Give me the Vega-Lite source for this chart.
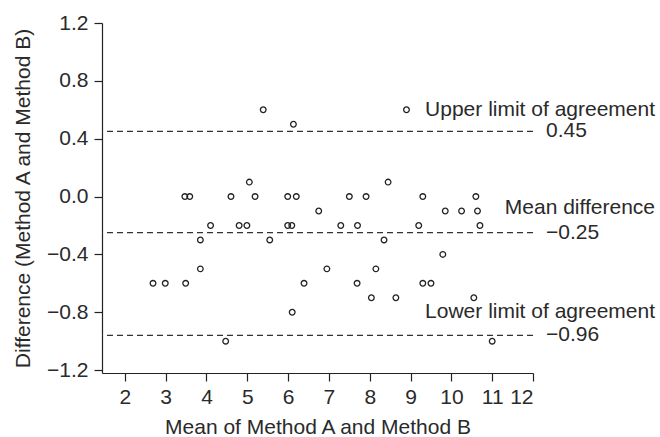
{
  "$schema": "https://vega.github.io/schema/vega-lite/v6.json",
  "width": 431,
  "height": 350,
  "autosize": {"type": "none"},
  "padding": {"left": 102, "top": 23, "right": 127, "bottom": 64},
  "background": "white",
  "config": {
    "view": {"stroke": null},
    "font": "Liberation Sans",
    "axis": {
      "grid": false,
      "domainColor": "#222",
      "tickColor": "#222",
      "labelColor": "#2a2a2a",
      "titleColor": "#2a2a2a",
      "labelFont": "Liberation Sans",
      "titleFont": "Liberation Sans",
      "labelFontSize": 21,
      "titleFontSize": 21,
      "titleFontWeight": "normal",
      "tickSize": 8,
      "domainWidth": 1.2,
      "tickWidth": 1.2
    }
  },
  "datasets": {
    "points": [
      {"mean": 5.39, "diff": 0.6}, {"mean": 8.9, "diff": 0.6}, {"mean": 6.13, "diff": 0.5},
      {"mean": 5.05, "diff": 0.1}, {"mean": 8.45, "diff": 0.1},
      {"mean": 3.47, "diff": 0.0}, {"mean": 3.59, "diff": 0.0}, {"mean": 4.6, "diff": 0.0}, {"mean": 5.19, "diff": 0.0}, {"mean": 5.99, "diff": 0.0}, {"mean": 6.2, "diff": 0.0}, {"mean": 7.5, "diff": 0.0}, {"mean": 7.91, "diff": 0.0}, {"mean": 9.3, "diff": 0.0}, {"mean": 10.6, "diff": 0.0},
      {"mean": 6.75, "diff": -0.1}, {"mean": 9.85, "diff": -0.1}, {"mean": 10.25, "diff": -0.1}, {"mean": 10.64, "diff": -0.1},
      {"mean": 4.1, "diff": -0.2}, {"mean": 4.8, "diff": -0.2}, {"mean": 4.99, "diff": -0.2}, {"mean": 5.99, "diff": -0.2}, {"mean": 6.09, "diff": -0.2}, {"mean": 7.29, "diff": -0.2}, {"mean": 7.7, "diff": -0.2}, {"mean": 9.2, "diff": -0.2}, {"mean": 10.7, "diff": -0.2},
      {"mean": 3.85, "diff": -0.3}, {"mean": 5.55, "diff": -0.3}, {"mean": 8.35, "diff": -0.3},
      {"mean": 9.79, "diff": -0.4},
      {"mean": 3.85, "diff": -0.5}, {"mean": 6.95, "diff": -0.5}, {"mean": 8.15, "diff": -0.5},
      {"mean": 2.69, "diff": -0.6}, {"mean": 2.99, "diff": -0.6}, {"mean": 3.49, "diff": -0.6}, {"mean": 6.39, "diff": -0.6}, {"mean": 7.69, "diff": -0.6}, {"mean": 9.3, "diff": -0.6}, {"mean": 9.5, "diff": -0.6},
      {"mean": 8.04, "diff": -0.7}, {"mean": 8.64, "diff": -0.7}, {"mean": 10.55, "diff": -0.7},
      {"mean": 6.1, "diff": -0.8},
      {"mean": 4.47, "diff": -1.0}, {"mean": 11.0, "diff": -1.0}
    ],
    "limits": [
      {"value": 0.45, "valueText": "0.45", "name": "Upper limit of agreement", "nameY": 0.6},
      {"value": -0.25, "valueText": "−0.25", "name": "Mean difference", "nameY": -0.08},
      {"value": -0.96, "valueText": "−0.96", "name": "Lower limit of agreement", "nameY": -0.8}
    ]
  },
  "layer": [
    {
      "data": {"name": "limits"},
      "mark": {"type": "rule", "strokeDash": [6, 4], "color": "#333", "strokeWidth": 1.2},
      "encoding": {
        "y": {"field": "value", "type": "quantitative", "scale": {"domain": [-1.22, 1.2]}}
      }
    },
    {
      "data": {"name": "points"},
      "mark": {"type": "point", "shape": "circle", "filled": false, "size": 32, "color": "#222", "strokeWidth": 1.3, "opacity": 1},
      "encoding": {
        "x": {
          "field": "mean", "type": "quantitative",
          "scale": {"domain": [1.44, 12], "nice": false, "zero": false},
          "axis": {"values": [2, 3, 4, 5, 6, 7, 8, 9, 10, 11, 12], "title": "Mean of Method A and Method B", "labelPadding": 5, "titlePadding": 9}
        },
        "y": {
          "field": "diff", "type": "quantitative",
          "scale": {"domain": [-1.22, 1.2], "nice": false, "zero": false},
          "axis": {"values": [-1.2, -0.8, -0.4, 0, 0.4, 0.8, 1.2], "format": ".1f", "title": "Difference (Method A and Method B)", "labelPadding": 6, "titlePadding": 13}
        }
      }
    },
    {
      "data": {"name": "limits"},
      "mark": {"type": "text", "align": "left", "baseline": "middle", "fontSize": 21, "color": "#2a2a2a", "clip": false},
      "encoding": {
        "x": {"datum": 12.32, "type": "quantitative"},
        "y": {"field": "value", "type": "quantitative"},
        "text": {"field": "valueText"}
      }
    },
    {
      "data": {"name": "limits"},
      "mark": {"type": "text", "align": "right", "baseline": "middle", "fontSize": 21, "color": "#2a2a2a", "clip": false},
      "encoding": {
        "x": {"datum": 14.99, "type": "quantitative"},
        "y": {"field": "nameY", "type": "quantitative"},
        "text": {"field": "name"}
      }
    }
  ]
}
